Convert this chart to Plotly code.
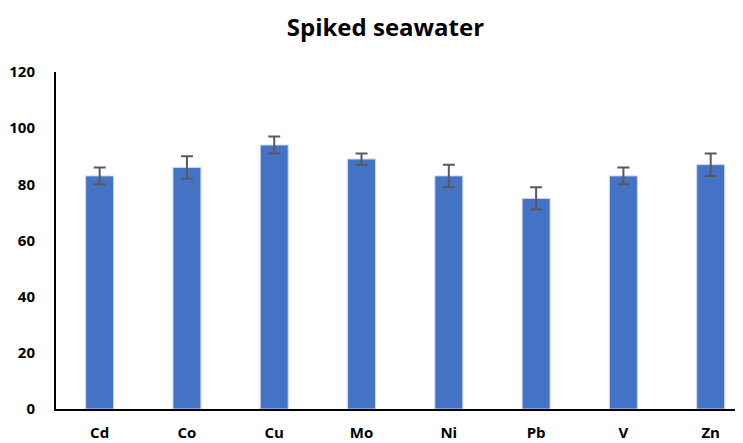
import plotly.graph_objects as go

elements = ["Cd", "Co", "Cu", "Mo", "Ni", "Pb", "V", "Zn"]
recovery = [83, 86, 94, 89, 83, 75, 83, 87]
recovery_sd = [3, 4, 3, 2, 4, 4, 3, 4]
y_ticks = [0, 20, 40, 60, 80, 100, 120]

fig = go.Figure()

fig.add_trace(
    go.Bar(
        x=elements,
        y=recovery,
        marker=dict(color="#4472C4", line=dict(color="#C9D6EF", width=1)),
        error_y=dict(
            type="data",
            array=recovery_sd,
            color="#595959",
            thickness=2,
            width=6,
        ),
    )
)

# the page body adds an 8px offset, so margins are trimmed by that amount
fig.update_layout(
    title=dict(
        text="<b>Spiked seawater</b>",
        x=0.508,
        xanchor="center",
        y=1 - 20 / 443,
        yanchor="middle",
        font=dict(family="Open Sans", size=24, color="#000000"),
    ),
    width=743,
    height=443,
    margin=dict(l=48, r=8, t=64, b=42),
    plot_bgcolor="white",
    paper_bgcolor="white",
    bargap=0.68,
    showlegend=False,
    font=dict(family="Open Sans", color="#000000"),
)

fig.update_xaxes(
    range=[-0.5, 7.37],
    showline=True,
    linecolor="#000000",
    linewidth=2,
    showgrid=False,
    ticks="",
    tickfont=dict(size=15, family="Open Sans", weight="bold"),
    ticklabelstandoff=9,
    automargin=False,
)

fig.update_yaxes(
    range=[0, 120],
    tickvals=y_ticks,
    showline=True,
    linecolor="#000000",
    linewidth=2,
    showgrid=False,
    zeroline=False,
    ticks="",
    tickfont=dict(size=15, family="Open Sans", weight="bold"),
    ticklabelstandoff=16,
    automargin=False,
)

fig.write_html("out.html")
